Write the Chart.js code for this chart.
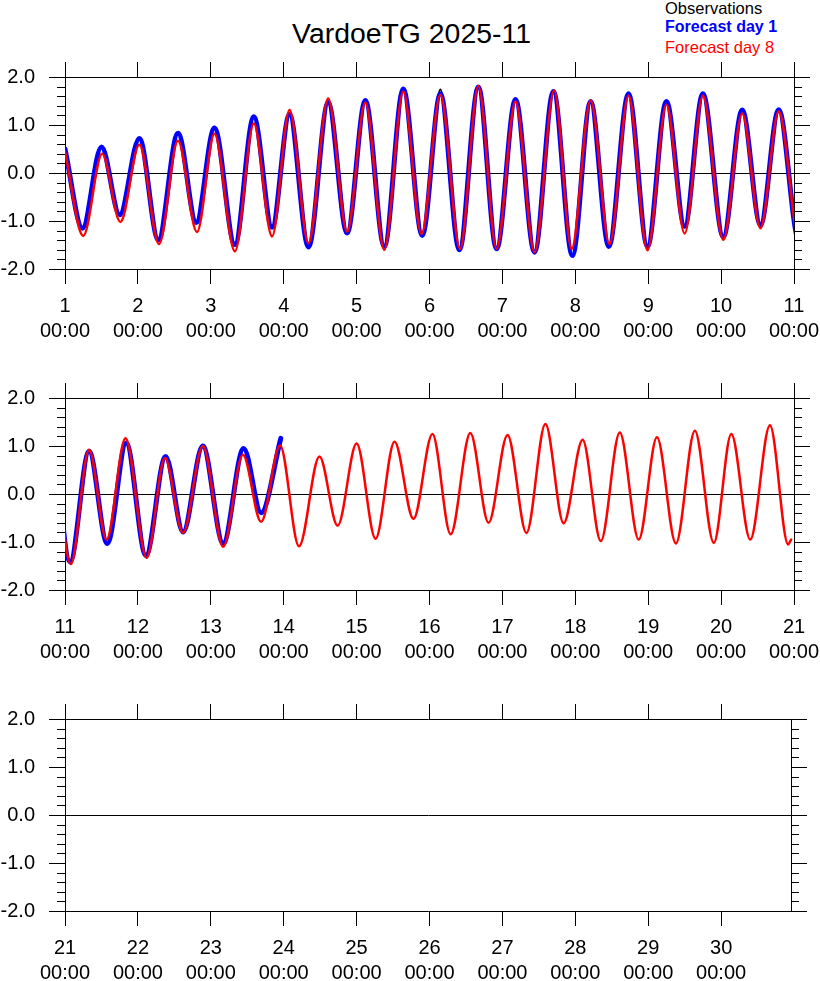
<!DOCTYPE html>
<html>
<head>
<meta charset="utf-8">
<title>VardoeTG 2025-11</title>
<script src="https://cdn.jsdelivr.net/npm/chart.js@4"></script>
<style>
  body { margin: 0; width: 820px; height: 981px; overflow: hidden; background: #fff; position: relative;
         font-family: "Liberation Sans", Arial, Helvetica, sans-serif; }
  .title { position: absolute; left: 0; width: 823px; top: 19px; text-align: center; font-size: 28.4px; line-height: 28px; }
  .legend { position: absolute; left: 665px; font-size: 16.5px; line-height: 20px; white-space: nowrap; }
  canvas { position: absolute; left: 0; }
</style>
</head>
<body>
<div class="title">VardoeTG 2025-11</div>
<div class="legend" style="top:-2px;color:#000">Observations</div>
<div class="legend" style="top:17px;color:#0000ff;font-weight:bold;font-size:16px">Forecast day 1</div>
<div class="legend" style="top:37px;color:#ff0000">Forecast day 8</div>
<canvas id="p1" width="820" height="277" style="top:62px"></canvas>
<canvas id="p2" width="820" height="277" style="top:383px"></canvas>
<canvas id="p3" width="820" height="277" style="top:704px"></canvas>
<script>
// sea level (m), time in day-of-month; highs and lows
const fc1Times = [1.00, 1.24, 1.50, 1.75, 2.02, 2.28, 2.55, 2.80, 3.05, 3.33, 3.59, 3.84, 4.08, 4.34, 4.61, 4.87,
  5.12, 5.38, 5.64, 5.90, 6.15, 6.41, 6.67, 6.92, 7.18, 7.44, 7.70, 7.96, 8.21, 8.46, 8.73, 8.99, 9.25, 9.50,
  9.75, 10.03, 10.29, 10.54, 10.79, 11.07, 11.33, 11.58, 11.84, 12.11, 12.38, 12.62, 12.89, 13.17, 13.45, 13.69, 13.96];
const fc1Values = [0.50, -1.15, 0.54, -0.87, 0.72, -1.39, 0.83, -1.03, 0.94, -1.49, 1.17, -1.13, 1.22, -1.54, 1.47, -1.25,
  1.51, -1.53, 1.75, -1.30, 1.65, -1.60, 1.79, -1.58, 1.53, -1.65, 1.70, -1.72, 1.49, -1.53, 1.65, -1.53, 1.49, -1.11,
  1.65, -1.33, 1.31, -1.08, 1.32, -1.41, 0.89, -1.03, 1.06, -1.28, 0.78, -0.79, 1.00, -1.03, 0.95, -0.39, 1.16];

const obsTimes = [1.00, 1.24, 1.50, 1.75, 2.02, 2.28, 2.55, 2.80, 3.05, 3.33, 3.59, 3.84, 4.08, 4.34, 4.61, 4.87,
  5.12, 5.38, 5.64, 5.90, 6.15, 6.40, 6.67, 6.92, 7.18, 7.44, 7.70, 7.96, 8.21, 8.46, 8.73, 8.99, 9.25, 9.50,
  9.75, 10.03, 10.29, 10.54, 10.79, 11.07, 11.33, 11.58, 11.84, 12.11, 12.38, 12.62, 12.89, 13.17, 13.45, 13.69, 13.96];
const obsValues = [0.50, -1.15, 0.54, -0.87, 0.72, -1.39, 0.83, -1.03, 0.94, -1.49, 1.17, -1.13, 1.22, -1.54, 1.47, -1.25,
  1.51, -1.53, 1.75, -1.30, 1.74, -1.62, 1.79, -1.58, 1.53, -1.65, 1.70, -1.72, 1.49, -1.53, 1.65, -1.53, 1.49, -1.11,
  1.65, -1.33, 1.31, -1.08, 1.32, -1.41, 0.89, -1.03, 1.06, -1.28, 0.78, -0.79, 1.00, -1.03, 0.95, -0.39, 1.16];

const fc8Times = [1.00, 1.25, 1.51, 1.76, 2.02, 2.29, 2.55, 2.81, 3.05, 3.33, 3.59, 3.84, 4.08, 4.34, 4.61, 4.87,
  5.12, 5.38, 5.64, 5.89, 6.15, 6.42, 6.67, 6.92, 7.18, 7.44, 7.71, 7.95, 8.21, 8.47, 8.73, 8.99, 9.25, 9.50,
  9.75, 10.03, 10.29, 10.54, 10.79, 11.08, 11.33, 11.57, 11.83, 12.12, 12.37, 12.62, 12.89, 13.17, 13.44, 13.69,
  13.95, 14.21, 14.49, 14.74, 15.00, 15.26, 15.52, 15.78, 16.04, 16.29, 16.56, 16.81, 17.07, 17.33, 17.59, 17.84,
  18.10, 18.35, 18.61, 18.87, 19.12, 19.38, 19.64, 19.90, 20.14, 20.40, 20.67, 20.92, 20.96];
const fc8Values = [0.45, -1.31, 0.40, -1.02, 0.59, -1.48, 0.67, -1.23, 0.82, -1.63, 1.03, -1.32, 1.31, -1.46, 1.55, -1.22,
  1.47, -1.60, 1.70, -1.27, 1.63, -1.58, 1.81, -1.58, 1.49, -1.65, 1.72, -1.58, 1.51, -1.48, 1.61, -1.61, 1.42, -1.26,
  1.61, -1.39, 1.24, -1.15, 1.28, -1.46, 0.92, -0.95, 1.16, -1.33, 0.75, -0.81, 1.00, -1.10, 0.82, -0.58,
  1.01, -1.09, 0.78, -0.66, 1.05, -0.93, 1.09, -0.52, 1.25, -0.84, 1.27, -0.60, 1.23, -0.81, 1.46, -0.61,
  1.13, -0.98, 1.28, -0.95, 1.18, -1.03, 1.32, -1.02, 1.25, -0.95, 1.43, -1.05, -0.95];

// axes
const panelStart = [1, 11, 21];
const panelEnd = [11, 21, 30 + 23 / 24];
const yTicks = [-2, -1, 0, 1, 2];
const yMinorStep = 0.2;
const timeLabel = '00:00';

Chart.defaults.font.family = '"Liberation Sans", Arial, Helvetica, sans-serif';
Chart.defaults.color = '#000';

function pts(times, vals) {
  return times.map((t, i) => ({ x: t, y: vals[i] }));
}

// pin an axis to a fixed size and stop its labels from pushing the plot area around
function fixSize(w, h) {
  return s => {
    if (w !== null) s.width = w;
    if (h !== null) s.height = h;
    s.paddingTop = 0; s.paddingBottom = 0; s.paddingLeft = 0; s.paddingRight = 0;
  };
}

// short ticks every 0.2 on both y axes
const minorTicks = {
  id: 'minorTicks',
  afterDraw(chart) {
    const ctx = chart.ctx, a = chart.chartArea, ys = chart.scales.y;
    const lo = yTicks[0], hi = yTicks[yTicks.length - 1];
    const n = Math.round((hi - lo) / yMinorStep);
    ctx.save();
    ctx.strokeStyle = '#000';
    ctx.lineWidth = 1;
    ctx.beginPath();
    for (let i = 0; i <= n; i++) {
      const v = lo + i * yMinorStep;
      if (Math.abs(v - Math.round(v)) < 1e-6) continue;
      const py = Math.round(ys.getPixelForValue(v)) + 0.5;
      ctx.moveTo(a.left - 8, py); ctx.lineTo(a.left, py);
      ctx.moveTo(a.right, py); ctx.lineTo(a.right + 8, py);
    }
    ctx.stroke();
    ctx.restore();
  }
};

function makePanel(id, p) {
  const lineOpts = { pointRadius: 0, fill: false, cubicInterpolationMode: 'monotone', clip: 0,
                     borderJoinStyle: 'round', borderCapStyle: 'round' };
  const xRange = { type: 'linear', min: panelStart[p], max: panelEnd[p] };
  new Chart(document.getElementById(id), {
    type: 'line',
    data: {
      datasets: [
        Object.assign({ label: 'Forecast day 8', data: pts(fc8Times, fc8Values), borderColor: '#ff0000', borderWidth: 2.5, order: 0 }, lineOpts),
        Object.assign({ label: 'Forecast day 1', data: pts(fc1Times, fc1Values), borderColor: '#0000ff', borderWidth: 5, order: 1 }, lineOpts),
        Object.assign({ label: 'Observations', data: pts(obsTimes, obsValues), borderColor: '#000000', borderWidth: 2, order: 2 }, lineOpts)
      ]
    },
    options: {
      responsive: false,
      animation: false,
      events: [],
      layout: { padding: 0 },
      plugins: { legend: { display: false }, tooltip: { enabled: false } },
      scales: {
        x: Object.assign({}, xRange, {
          position: 'bottom',
          afterFit: fixSize(null, 70),
          border: { display: true, color: '#000', width: 1 },
          grid: { drawOnChartArea: false, tickLength: 15, color: '#000' },
          ticks: { stepSize: 1, includeBounds: false, autoSkip: false, maxRotation: 0, minRotation: 0, padding: 10,
                   font: { size: 20, lineHeight: '25px' },
                   callback: v => [String(Math.round(v)), timeLabel] }
        }),
        xTop: Object.assign({}, xRange, {
          position: 'top',
          afterFit: fixSize(null, 15),
          border: { display: true, color: '#000', width: 1 },
          grid: { drawOnChartArea: false, tickLength: 15, color: '#000' },
          ticks: { stepSize: 1, includeBounds: false, display: false }
        }),
        y: {
          type: 'linear', position: 'left', min: yTicks[0], max: yTicks[yTicks.length - 1],
          afterFit: fixSize(65, null),
          border: { display: true, color: '#000', width: 1 },
          grid: { drawOnChartArea: true, tickLength: 16, tickColor: '#000',
                  color: c => (c.tick && c.tick.value === 0) ? '#000' : 'rgba(0,0,0,0)' },
          afterBuildTicks: s => { s.ticks = yTicks.map(v => ({ value: v })); },
          ticks: { padding: 14, font: { size: 20 }, callback: v => v.toFixed(1) }
        },
        y2: {
          type: 'linear', position: 'right', min: yTicks[0], max: yTicks[yTicks.length - 1],
          afterFit: fixSize(p === 2 ? 29 : 26, null),
          border: { display: true, color: '#000', width: 1 },
          grid: { drawOnChartArea: false, tickLength: 16, color: '#000' },
          afterBuildTicks: s => { s.ticks = yTicks.map(v => ({ value: v })); },
          ticks: { display: false }
        }
      }
    },
    plugins: [minorTicks]
  });
}

makePanel('p1', 0);
makePanel('p2', 1);
makePanel('p3', 2);
</script>
</body>
</html>
